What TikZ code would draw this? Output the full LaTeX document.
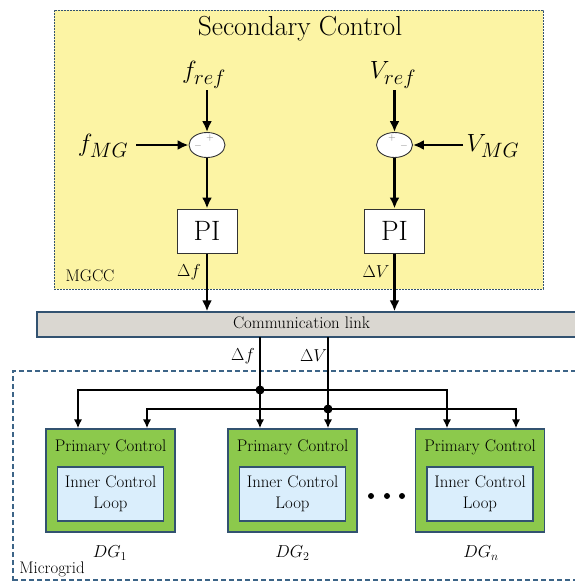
\documentclass[tikz,border=0pt]{standalone}
\usetikzlibrary{arrows.meta,shapes.geometric}
\definecolor{secy}{RGB}{252,244,164}
\definecolor{bord}{RGB}{50,82,112}
\definecolor{grn}{RGB}{140,201,76}
\definecolor{lblue}{RGB}{218,238,252}
\definecolor{commg}{RGB}{218,215,209}
\definecolor{mgb}{RGB}{60,100,135}
\begin{document}
\begin{tikzpicture}[x=1pt,y=-1pt,
  sm/.style={font=\fontsize{16.8}{18}\selectfont, inner sep=0pt},
  mth/.style={font=\fontsize{28.5}{31}\selectfont, inner sep=0pt},
  sumj/.style={draw=black!80, line width=0.9pt, fill=white, ellipse, minimum width=36pt, minimum height=25pt, inner sep=0pt},
  piblk/.style={draw=black!80, line width=1pt, fill=white, minimum width=60pt, minimum height=44pt, font=\fontsize{28}{30}\selectfont, inner sep=0pt},
  sig/.style={line width=2.6pt, -{Latex[length=11pt,width=10pt]}},
  busl/.style={line width=2pt},
  busa/.style={line width=2pt, -{Latex[length=9pt,width=8.5pt]}},
  dgbox/.style={draw=bord, line width=1.5pt, fill=grn, minimum width=129pt, minimum height=103pt, inner sep=0pt},
  innerbox/.style={draw=bord, line width=1.6pt, fill=lblue, minimum width=106pt, minimum height=54pt, inner sep=0pt, align=center, font=\fontsize{16.8}{20.5}\selectfont},
  dot/.style={circle, fill=black, minimum size=9pt, inner sep=0pt},
  sgn/.style={font=\fontsize{10}{10}\selectfont, text=black!50, inner sep=0pt}
]
\useasboundingbox (0,0) rectangle (575,581);
\clip (0,0) rectangle (575,581);
\fill[white] (0,0) rectangle (575,581);

% Secondary control area
\node[draw=bord, dash pattern=on 2pt off 1pt, line width=1pt, fill=secy, minimum width=489pt, minimum height=279pt, inner sep=0pt] (sec) at (298.5,149.5) {};
\node[font=\fontsize{27.5}{29}\selectfont, inner sep=0pt] (title) at (300,29) {Secondary Control};
\node[sm] (mgcc) at (90,276) {MGCC};

\node[mth] (fref) at (204,75) {$f_{ref}$};
\node[mth] (vref) at (393,75) {$V_{ref}$};
\node[mth] (fmg) at (103,146) {$f_{MG}$};
\node[mth] (vmg) at (493,146) {$V_{MG}$};

\node[sumj] (s1) at (207,145) {};
\node[sumj] (s2) at (394.5,145) {};
\node[sgn] (p1) at (210,137.5) {$+$};
\node[sgn] (m1) at (198,146) {$-$};
\node[sgn] (p2) at (392,137.5) {$+$};
\node[sgn] (m2) at (404,146) {$-$};

\node[piblk] (pi1) at (207,231) {PI};
\node[piblk] (pi2) at (394.5,231) {PI};

\node[sm] (df1) at (189,272) {$\Delta f$};
\node[sm] (dv1) at (376,272) {$\Delta V$};

\coordinate (fr0) at (207,90);
\coordinate (vr0) at (394.5,90);
\coordinate (fm0) at (136,145);
\coordinate (vm0) at (463,145);
\draw[sig] (fr0) -- (s1.north);
\draw[sig] (vr0) -- (s2.north);
\draw[sig] (fm0) -- (s1.west);
\draw[sig] (vm0) -- (s2.east);
\draw[sig] (s1.south) -- (pi1.north);
\draw[sig] (s2.south) -- (pi2.north);

% Communication link
\node[draw=bord, line width=1.3pt, fill=commg, minimum width=553pt, minimum height=25pt, inner sep=0pt] (comm) at (313.5,324.5) {};
\node[sm] (commtxt) at (301.5,323) {Communication link};
\draw[sig] (pi1.south) -- (pi1.south |- comm.north);
\draw[sig] (pi2.south) -- (pi2.south |- comm.north);

% Microgrid area
\draw[mgb, line width=1.5pt, dash pattern=on 5pt off 3pt] (13,581) -- (13,371) -- (590,371);
\draw[mgb, line width=1.5pt, dash pattern=on 5pt off 3pt] (13,580) -- (590,580);
\node[sm] (mgl) at (52,569) {Microgrid};

% DG units
\node[dgbox] (dg1) at (110.5,480.5) {};
\node[dgbox] (dg2) at (292.5,480.5) {};
\node[dgbox] (dgn) at (480,480.5) {};
\foreach \d in {dg1,dg2,dgn}{
  \node[sm] at ([yshift=33.5]\d.center) {Primary Control};
  \node[innerbox] at ([yshift=-13.5]\d.center) {Inner Control\\Loop};
}
\node[sm] (l1) at (110,553) {$DG_1$};
\node[sm] (l2) at (292.5,553) {$DG_2$};
\node[sm] (ln) at (481,553) {$DG_n$};

\node[dot, minimum size=6pt] (e1) at (371,496) {};
\node[dot, minimum size=6pt] (e2) at (387,496) {};
\node[dot, minimum size=6pt] (e3) at (402,496) {};

% Distribution
\coordinate (fc) at (260,337);
\coordinate (vc) at (328,337);
\node[dot] (fj) at (260,390) {};
\node[dot] (vj) at (328,409) {};
\node[sm] (df2) at (243,356) {$\Delta f$};
\node[sm] (dv2) at (313.5,356) {$\Delta V$};

\draw[busl] (fc) -- (fj.center);
\draw[busl] (vc) -- (vj.center);
\draw[busa] (fj.center) -| ([xshift=-32.5]dg1.north);
\draw[busa] (fj.center) -| ([xshift=-33]dgn.north);
\draw[busa] (fj.center) -- ([xshift=-32.5]dg2.north);
\draw[busa] (vj.center) -| ([xshift=36.5]dg1.north);
\draw[busa] (vj.center) -| ([xshift=36]dgn.north);
\draw[busa] (vj.center) -- ([xshift=35.5]dg2.north);
\end{tikzpicture}
\end{document}
